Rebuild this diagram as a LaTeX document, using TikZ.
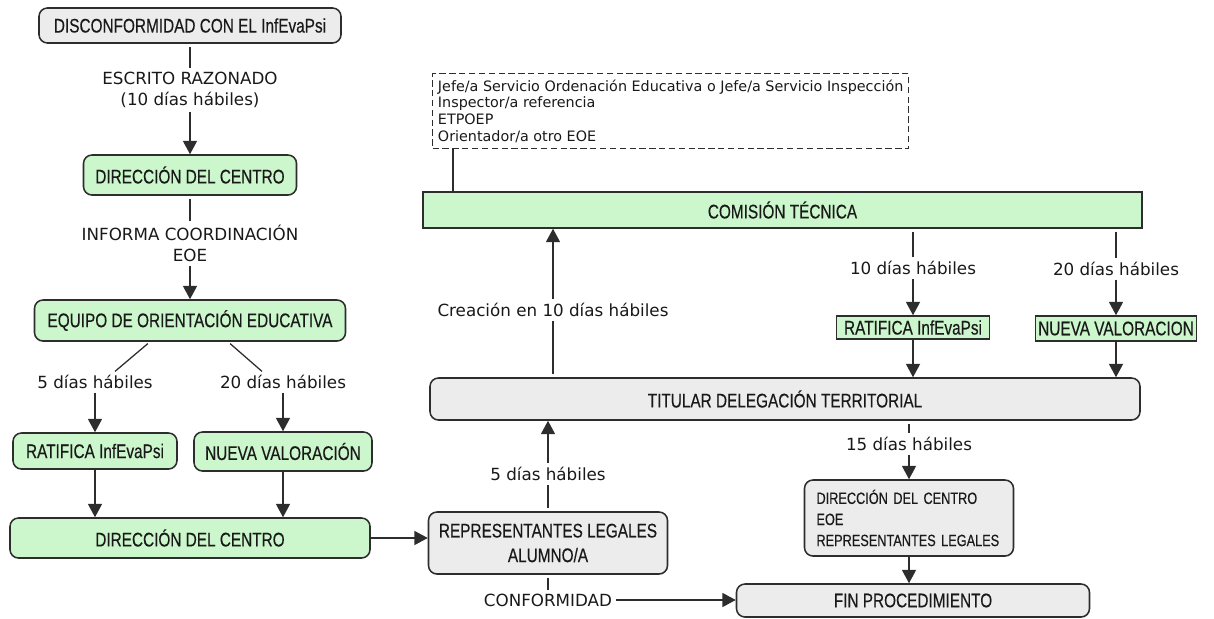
\documentclass[tikz,border=0pt]{standalone}
\usepackage{fontspec}
\setmainfont{DejaVu Sans}
\newfontfamily\boxfont[FakeStretch=0.78, FakeBold=0.35]{Liberation Sans}
\usetikzlibrary{arrows.meta}

\definecolor{mint}{RGB}{204,246,204}
\definecolor{pale}{RGB}{236,236,236}
\definecolor{edge}{RGB}{45,45,45}
\definecolor{ink}{RGB}{25,25,25}

\def \px{0.025cm}

\tikzset{
  box/.style={draw=edge, line width=1.1pt, rounded corners=6pt, inner sep=0pt, text=ink, align=center, font=\boxfont\fontsize{14}{17.5}\selectfont},
  flat/.style={box, rounded corners=0pt},
  boxsize/.style 2 args={minimum width=#1*\px, minimum height=#2*\px},
  lbl/.style={inner sep=2.5pt, text=ink, align=center, font=\fontsize{11.9}{15}\selectfont},
  stub/.style={draw=edge, line width=0.9pt},
  flow/.style={stub, -{Triangle[width=10pt,length=9.5pt]}}
}

\begin{document}
\begin{tikzpicture}[x=0.025cm, y=-0.025cm]

\useasboundingbox (0,0) rectangle (1214,618);

% left column
\node (disc) [box, fill=pale, boxsize={302}{35}] at (190,25.5) {DISCONFORMIDAD CON EL InfEvaPsi};
\node (lesc) [lbl] at (190,90) {ESCRITO RAZONADO\\(10 días hábiles)};
\node (dir1) [box, fill=mint, boxsize={213}{40}] at (190,175) {DIRECCIÓN DEL CENTRO};
\node (linf) [lbl] at (190,243.5) {INFORMA COORDINACIÓN\\EOE};
\node (eoe) [box, fill=mint, boxsize={311}{41}] at (190,320.5) {EQUIPO DE ORIENTACIÓN EDUCATIVA};
\node (l5a) [lbl] at (95,382) {5 días hábiles};
\node (l20a) [lbl] at (283,382) {20 días hábiles};
\node (rat1) [box, fill=mint, boxsize={164}{36}] at (95,451) {RATIFICA InfEvaPsi};
\node (nv1) [box, fill=mint, boxsize={178}{39}] at (283,451.5) {NUEVA VALORACIÓN};
\node (dir2) [box, fill=mint, boxsize={360}{40}] at (190,538) {DIRECCIÓN DEL CENTRO};

% middle
\node (rep) [box, fill=pale, boxsize={239}{62}] at (548,543) {REPRESENTANTES LEGALES\\ALUMNO/A};
\node (l5b) [lbl] at (548,474) {5 días hábiles};
\node (lconf) [lbl] at (548,600) {CONFORMIDAD};
\node (titular) [box, fill=pale, boxsize={710}{42}] at (785,399) {TITULAR DELEGACIÓN TERRITORIAL};
\node (lcrea) [lbl] at (553,310) {Creación en 10 días hábiles};
\node (comision) [flat, fill=mint, boxsize={719}{36}] at (782.5,210) {COMISIÓN TÉCNICA};
\node (miembros) [flat, dash pattern=on 4.5pt off 2.5pt, line width=0.9pt, anchor=north west, boxsize={476}{75}, inner xsep=4*\px, inner ysep=5*\px, align=left, font=\fontsize{10.2}{11.8}\selectfont] at (432,73) {Jefe/a Servicio Ordenación Educativa o Jefe/a Servicio Inspección\\Inspector/a referencia\\ETPOEP\\Orientador/a otro EOE};

% right column
\node (l10) [lbl] at (913,268) {10 días hábiles};
\node (l20b) [lbl] at (1116,269) {20 días hábiles};
\node (rat2) [flat, fill=mint, boxsize={153}{23}] at (913,327.5) {RATIFICA InfEvaPsi};
\node (nv2) [flat, fill=mint, boxsize={161}{25}] at (1116,328.5) {NUEVA VALORACION};
\node (l15) [lbl] at (909,444) {15 días hábiles};
\node (aviso) [box, fill=pale, boxsize={209}{76}, text width=185*\px, align=left, font=\boxfont\fontsize{11.6}{15}\selectfont] at (909,518) {DIRECCIÓN DEL CENTRO\\EOE\\REPRESENTANTES LEGALES};
\node (fin) [box, fill=pale, boxsize={353}{33}] at (913,600.5) {FIN PROCEDIMIENTO};

% connectors
\draw [stub, shorten <=2pt] (disc) -- (lesc);
\draw [flow] (lesc) -- (dir1);
\draw [stub, shorten <=2pt] (dir1) -- (linf);
\draw [flow] (linf) -- (eoe);
\draw [stub, shorten <=2pt] ([xshift=-40*\px]eoe.south) -- ([xshift=20*\px]l5a.north);
\draw [stub, shorten <=2pt] ([xshift=38*\px]eoe.south) -- ([xshift=-21*\px]l20a.north);
\draw [flow] (l5a) -- (rat1);
\draw [flow] (l20a) -- (nv1);
\draw [flow] (rat1) -- (rat1 |- dir2.north);
\draw [flow] (nv1) -- (nv1 |- dir2.north);
\draw [flow] (dir2.east) -- (dir2.east -| rep.west);

\draw [stub, shorten <=2pt] (rep) -- (l5b);
\draw [flow] (l5b) -- (l5b |- titular.south);
\draw [stub, shorten <=2pt] (rep) -- (lconf);
\draw [flow] (lconf) -- (lconf -| fin.west);
\draw [stub, shorten <=2pt] (titular.north -| lcrea) -- (lcrea);
\draw [flow] (lcrea) -- (lcrea |- comision.south);
\draw [stub] ([xshift=21*\px]miembros.south west) -- ([xshift=21*\px]miembros.south west |- comision.north);

\draw [stub, shorten <=2pt] (comision.south -| l10) -- (l10);
\draw [flow] (l10) -- (rat2);
\draw [stub, shorten <=2pt] (comision.south -| l20b) -- (l20b);
\draw [flow] (l20b) -- (nv2);
\draw [flow] (rat2) -- (rat2 |- titular.north);
\draw [flow] (nv2) -- (nv2 |- titular.north);
\draw [stub, shorten <=2pt] (titular.south -| l15) -- (l15);
\draw [flow] (l15) -- (aviso);
\draw [flow] (aviso) -- (aviso |- fin.north);

\end{tikzpicture}
\end{document}
